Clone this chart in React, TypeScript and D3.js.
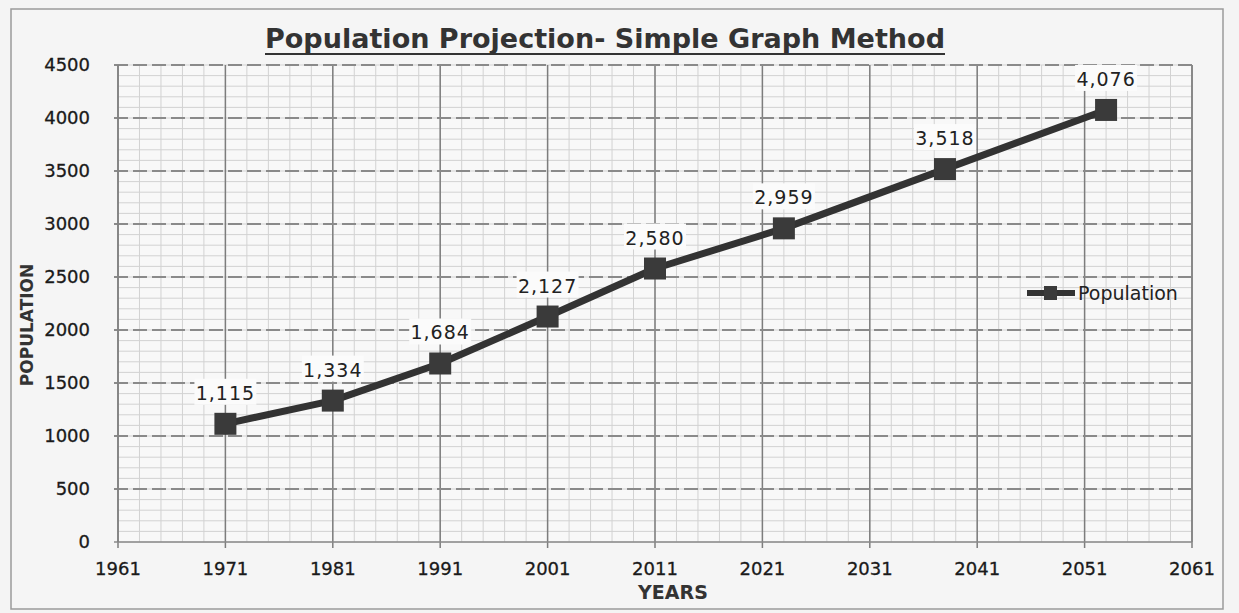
import * as d3 from "d3";

const years = [1971, 1981, 1991, 2001, 2011, 2023, 2038, 2053];
const population = [1115, 1334, 1684, 2127, 2580, 2959, 3518, 4076];
const xTicks = [1961, 1971, 1981, 1991, 2001, 2011, 2021, 2031, 2041, 2051, 2061];
const yTicks = [0, 500, 1000, 1500, 2000, 2500, 3000, 3500, 4000, 4500];
const seriesName = "Population";
const title = "Population Projection- Simple Graph Method";

const W = 1239;
const H = 613;
const font = "'DejaVu Sans', Verdana, sans-serif";

export default function App() {
  const x = d3.scaleLinear().domain([1961, 2061]).range([118, 1192]);
  const y = d3.scaleLinear().domain([0, 4500]).range([542, 65]);

  const minorX = d3.range(1961, 2062, 2);
  const minorY = d3.range(0, 4501, 100);
  const pts = years.map((yr, i) => [yr, population[i]] as [number, number]);
  const line = d3.line<[number, number]>().x(d => x(d[0])).y(d => y(d[1]));
  const fmt = d3.format(",");

  const [x0, x1] = x.range();
  const [y0, y1] = y.range();

  return (
    <svg width={W} height={H} style={{ position: "absolute", left: 0, top: 0 }}
      fontFamily={font}>
      <rect width={W} height={H} fill="#f4f4f4" />
      <rect x={11} y={9} width={1212} height={600} fill="#f5f5f5" stroke="#9a9a9a" strokeWidth={1.5} />

      {/* title */}
      <text x={605} y={48} textAnchor="middle" fontSize={27} fontWeight="bold" fill="#333"
        textLength={680} lengthAdjust="spacingAndGlyphs">{title}</text>
      <line x1={265} x2={945} y1={54} y2={54} stroke="#333" strokeWidth={2} />

      {/* plot area + graph paper grid */}
      <rect x={x0} y={y1} width={x1 - x0} height={y0 - y1} fill="#f8f8f8" />
      {minorX.map(v => (
        <line key={"mx" + v} x1={x(v)} x2={x(v)} y1={y1} y2={y0} stroke="#d2d2d2" strokeWidth={1} />
      ))}
      {minorY.map(v => (
        <line key={"my" + v} x1={x0} x2={x1} y1={y(v)} y2={y(v)} stroke="#d2d2d2" strokeWidth={1} />
      ))}
      {xTicks.map(v => (
        <line key={"gx" + v} x1={x(v)} x2={x(v)} y1={y1} y2={y0 + 6} stroke="#7d7d7d" strokeWidth={1.5} />
      ))}
      {yTicks.map(v => (
        <line key={"gy" + v} x1={x0 - 4} x2={x1} y1={y(v)} y2={y(v)} stroke="#8a8a8a"
          strokeWidth={v === 0 ? 1.5 : 2} strokeDasharray={v === 0 ? undefined : "14 5"} />
      ))}
      <line x1={x0} x2={x0} y1={y1} y2={y0} stroke="#808080" strokeWidth={1.5} />
      <line x1={x1} x2={x1} y1={y1} y2={y0} stroke="#858585" strokeWidth={1.5} />

      {/* tick labels */}
      {yTicks.map(v => (
        <text key={"ty" + v} x={90} y={y(v)} dy="0.36em" textAnchor="end" fontSize={18} fill="#1a1a1a"
          stroke="#1a1a1a" strokeWidth={0.3}>{v}</text>
      ))}
      {xTicks.map(v => (
        <text key={"tx" + v} x={x(v)} y={575} textAnchor="middle" fontSize={18} fill="#1a1a1a"
          stroke="#1a1a1a" strokeWidth={0.3}>{v}</text>
      ))}

      {/* axis titles */}
      <text x={673} y={599} textAnchor="middle" fontSize={19} fontWeight="bold" fill="#333">YEARS</text>
      <text transform="translate(33,325) rotate(-90)" textAnchor="middle" fontSize={17} fontWeight="bold"
        fill="#333">POPULATION</text>

      {/* series */}
      <path d={line(pts) ?? ""} fill="none" stroke="#333" strokeWidth={7} strokeLinejoin="round" />
      {pts.map(([a, b]) => (
        <rect key={"m" + a} x={x(a) - 11} y={y(b) - 11} width={22} height={22} fill="#3a3a3a" />
      ))}

      {/* data labels */}
      {pts.map(([a, b]) => {
        const t = fmt(b);
        return (
          <g key={"l" + a}>
            <rect x={x(a) - 31} y={y(b) - 45} width={62} height={26} fill="#fbfbfb" />
            <text x={x(a)} y={y(b) - 24} textAnchor="middle" fontSize={19} fill="#222"
              letterSpacing={1}>{t}</text>
          </g>
        );
      })}

      {/* legend */}
      <line x1={1027} x2={1075} y1={293} y2={293} stroke="#333" strokeWidth={6} />
      <rect x={1044} y={286} width={13} height={14} fill="#3a3a3a" />
      <text x={1078} y={300} fontSize={19} fill="#222">{seriesName}</text>
    </svg>
  );
}
